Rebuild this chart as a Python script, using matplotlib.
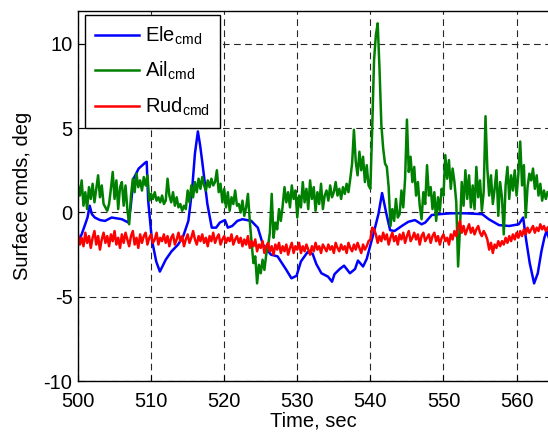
import numpy as np
import matplotlib
matplotlib.use("Agg")
import matplotlib.pyplot as plt

plt.rcParams['font.family'] = ['Liberation Sans', 'DejaVu Sans']
plt.rcParams['mathtext.default'] = 'regular'
plt.rcParams['axes.unicode_minus'] = False

# sampled at 0.25 s starting at 500 s
t0 = 500.0
dt = 0.25

ail_cmd = [
    1.6, 1.0, 1.9, 0.4, 1.2, 0.2, 1.5, 0.8,
    1.7, 0.6, 1.4, 2.2, 0.9, 1.6, 0.5, 0.3,
    0.1, 0.5, 1.4, 2.4, 0.8, 1.9, 0.2, 1.5,
    1.8, 0.4, 1.6, 0.2, -0.7, 1.0, 2.0, 1.2,
    2.3, 1.5, 1.9, 1.3, 2.1, 1.6, 2.2, 0.7,
    1.1, 0.8, 1.2, 0.7, 0.9, 0.6, 1.0, 0.5,
    0.7, 2.0, 1.0, 0.6, 1.2, 0.4, 0.9, 0.3,
    0.5, 0.1, 0.4, 0.2, 1.3, 0.6, 1.6, 0.9,
    1.8, 1.2, 2.0, 1.4, 2.1, 1.6, 1.3, 1.9,
    1.5, 2.0, 1.6, 1.8, 2.5, 1.2, 1.7, 0.6,
    1.4, 0.3, 1.2, 0.1, 0.9, 0.5, 1.3, 0.4,
    0.5, 0.0, 0.7, -0.2, 0.3, 1.1, -0.5, -1.8,
    -3.0, -2.6, -4.2, -3.1, -3.6, -2.8, -3.4, -2.5,
    -2.0, -1.2, 1.1, -1.5, -0.6, -1.0, 0.2, -0.5,
    0.4, 1.5, 0.6, 1.2, 0.3, 1.6, 0.8, 1.3,
    -0.3, 1.0, 0.3, 1.8, 0.6, 1.4, 0.2, 1.9,
    0.8, 1.5, 0.1, 1.2, 0.5, 1.7, 0.2, 1.0,
    1.3, 0.7, 1.6, 0.9, 1.2, 1.8, 1.0, 1.4,
    0.8, 1.5, 1.1, 1.7, 1.2, 2.0, 2.9, 4.9,
    3.0, 2.2, 3.6, 2.5, 3.3, 1.8, 2.8, 1.6,
    1.4, 5.0, 9.0, 10.5, 11.2, 8.5, 5.2, 3.8,
    2.9, 2.7, 1.5, -0.8, 0.2, -0.5, 0.8, -0.3,
    -0.1, 1.3, 0.3, 2.0, 5.5, 2.4, 3.3, 1.8,
    2.7, 1.0, 1.8, 0.4, -0.4, 1.2, 0.5, 2.8,
    1.0, 1.5, 0.2, 1.2, -0.5, 0.9, 0.1, 1.4,
    1.0, 3.4, 2.0, 3.1, 1.4, 2.6, 1.8, 0.6,
    -3.2, -1.0, 1.8, 0.4, 2.5, 0.8, 2.2, 0.3,
    1.6, 0.2, 2.7, 0.9, 1.9, 0.1, 1.2, 5.7,
    2.6, 1.0, 2.2, 0.5, 1.4, 2.5, -0.2, 1.8,
    0.9, -1.3, 1.6, 2.7, 0.8, 2.2, 1.3, 2.5,
    1.0, 2.3, 4.2, 1.6, 2.8, -0.3, 1.5, 2.3,
    1.9, 2.6, 1.4, 2.2, 1.0, 1.7, 0.7, 1.3,
    0.8, 1.2,
]

rud_cmd = [
    -1.3, -1.9, -1.5, -2.0, -1.2, -1.8, -1.4, -2.1,
    -1.5, -1.1, -1.9, -1.4, -2.2, -1.6, -1.2, -1.8,
    -1.4, -2.0, -1.3, -1.7, -1.1, -1.9, -1.5, -2.1,
    -1.3, -1.8, -1.2, -1.6, -2.0, -1.4, -1.1, -1.9,
    -1.5, -2.1, -1.3, -1.8, -1.4, -1.2, -1.9, -1.5,
    -1.3, -1.8, -1.6, -1.2, -1.9, -1.5, -1.7, -1.3,
    -1.8, -1.4, -2.0, -1.5, -1.3, -1.9, -1.6, -1.2,
    -1.7, -1.4, -2.0, -1.6, -1.3, -1.8, -1.5, -1.1,
    -1.6, -1.9, -1.4, -1.7, -1.3, -1.8, -1.5, -2.0,
    -1.4, -1.7, -1.2, -1.8, -1.5, -1.3, -1.9, -1.6,
    -1.4, -1.8, -1.5, -1.7, -1.3, -1.9, -1.6, -1.4,
    -1.8, -1.5, -2.0, -1.6, -1.9, -1.4, -2.1, -1.7,
    -2.0, -1.6, -2.3, -1.9, -2.1, -1.7, -2.4, -2.0,
    -1.8, -2.3, -2.0, -2.5, -1.9, -2.2, -1.8, -2.4,
    -2.0, -2.3, -1.9, -2.5, -2.1, -1.8, -2.4, -2.0,
    -2.2, -1.8, -2.4, -2.0, -2.3, -1.9, -2.2, -2.5,
    -2.0, -2.3, -1.8, -2.2, -2.0, -2.4, -1.9, -2.1,
    -2.3, -1.9, -2.2, -2.0, -2.4, -1.8, -2.1, -2.3,
    -1.9, -2.2, -2.0, -2.4, -1.8, -2.1, -2.3, -1.9,
    -2.2, -1.8, -2.1, -2.4, -1.9, -2.2, -2.0, -1.7,
    -1.6, -0.9, -1.0, -1.3, -1.8, -1.4, -1.7, -1.2,
    -1.6, -1.3, -1.9, -1.5, -1.2, -1.7, -1.4, -1.9,
    -1.3, -1.6, -1.2, -1.8, -1.4, -1.1, -1.7, -1.5,
    -1.2, -1.6, -1.3, -1.9, -1.4, -1.2, -1.7, -1.5,
    -1.3, -1.8, -1.4, -1.2, -1.7, -1.4, -1.9, -1.5,
    -1.3, -1.7, -1.5, -1.9, -1.3, -1.6, -1.1, -1.4,
    -0.9, -0.5, -1.2, -0.8, -1.3, -1.0, -0.7, -1.2,
    -0.9, -1.3, -1.0, -0.8, -1.2, -1.4, -1.1, -1.3,
    -1.6, -2.2, -1.8, -2.4, -1.9, -2.1, -1.7, -2.0,
    -1.7, -1.9, -1.5, -1.8, -1.4, -1.7, -1.3, -1.6,
    -1.2, -1.5, -1.1, -1.4, -1.0, -1.3, -0.9, -1.2,
    -1.0, -0.8, -1.2, -0.9, -1.1, -0.7, -1.0, -0.8,
    -1.1, -0.9,
]

# elevator is smooth, read as breakpoints
ele_t = [500.0, 500.5, 500.9, 501.3, 501.6, 501.9, 502.3, 503.0, 503.7, 504.6,
         505.3, 506.0, 506.9, 507.2, 507.6, 508.3, 509.2, 509.4, 509.6, 510.1,
         510.7, 511.2, 512.0, 512.8, 513.7, 514.4, 515.1, 515.6, 516.0, 516.4,
         516.7, 517.0, 517.7, 518.3, 518.9, 519.4, 520.1, 520.5, 521.1, 521.8,
         522.5, 523.7, 524.6, 525.3, 526.4, 527.3, 528.5, 529.2, 529.9, 530.5,
         531.4, 532.1, 532.6, 533.3, 534.2, 534.75, 535.1, 535.8, 536.4, 537.2,
         537.9, 538.3, 539.0, 539.5, 539.9, 540.4, 541.1, 541.6, 542.2, 542.7,
         543.3, 544.3, 545.2, 546.1, 547.0, 547.5, 548.4, 549.5, 551.0, 553.0,
         555.3, 556.2, 557.6, 559.0, 560.3, 560.9, 561.3, 561.8, 562.4, 562.9,
         563.4, 563.8, 564.1, 564.5]
ele_v = [-1.7, -1.3, -0.8, -0.3, 0.4, -0.1, -0.3, -0.45, -0.5, -0.3,
         -0.35, -0.4, -0.6, 0.3, 2.0, 2.6, 2.95, 3.0, 0.7, -1.6,
         -2.9, -3.5, -2.8, -2.3, -1.9, -1.4, -0.5, 1.3, 3.5, 4.8,
         4.0, 3.0, 0.5, -0.9, -0.9, -0.6, -0.45, -0.9, -0.8, -0.5,
         -0.4, -0.5, -0.9, -1.9, -2.5, -2.6, -3.4, -3.9, -3.75, -2.9,
         -2.35, -2.45, -3.05, -3.6, -3.8, -4.1, -3.65, -3.35, -3.15, -3.6,
         -3.35, -2.85, -3.2, -2.75, -2.1, -1.3, -0.1, 1.15, -0.1, -1.05,
         -1.1, -0.8, -0.55, -0.45, -0.7, -0.6, -0.15, -0.1, -0.05, -0.05,
         -0.1, -0.4, -0.75, -0.8, -0.7, -0.3, -1.6, -3.0, -4.2, -3.6,
         -2.3, -1.5, -1.1, -1.6]

t_ail = t0 + dt * np.arange(len(ail_cmd))
t_rud = t0 + dt * np.arange(len(rud_cmd))

fig = plt.figure(figsize=(5.48, 4.34), dpi=100)
ax = fig.add_axes([78/548, 52.7/434, 470/548, (381.3-10.7)/434])

ax.plot(ele_t, ele_v, color=(0, 0, 1), lw=1.8, label='Ele$_{cmd}$')
ax.plot(t_ail, ail_cmd, color=(0, 0.5, 0), lw=1.8, label='Ail$_{cmd}$')
ax.plot(t_rud, rud_cmd, color=(1, 0, 0), lw=1.8, label='Rud$_{cmd}$')

ax.set_xlim(500, 564.3)
ax.set_ylim(-10, 11.95)
ax.set_xticks([500, 510, 520, 530, 540, 550, 560])
ax.set_yticks([-10, -5, 0, 5, 10])
ax.grid(True, color='0.15', linestyle=(0, (6, 4)), lw=0.8)
ax.tick_params(direction='in', length=4, labelsize=14.5)
ax.tick_params(axis='x', pad=8)
ax.tick_params(axis='y', pad=4)
ax.spines['right'].set_visible(False)
for s in ['left', 'bottom', 'top']:
    ax.spines[s].set_linewidth(1.0)

ax.set_xlabel('Time, sec', fontsize=14.5, labelpad=0)
ax.set_ylabel('Surface cmds, deg', fontsize=14.5, labelpad=8)

leg = ax.legend(loc='upper left', bbox_to_anchor=(7/470, 1 - 4/370.6),
                borderaxespad=0, fontsize=14.5, fancybox=False, framealpha=1,
                edgecolor='k', handlelength=2.2, labelspacing=0.65,
                borderpad=0.5, handletextpad=0.3)
leg.get_frame().set_linewidth(1.0)

fig.savefig('out.png', dpi=100)
